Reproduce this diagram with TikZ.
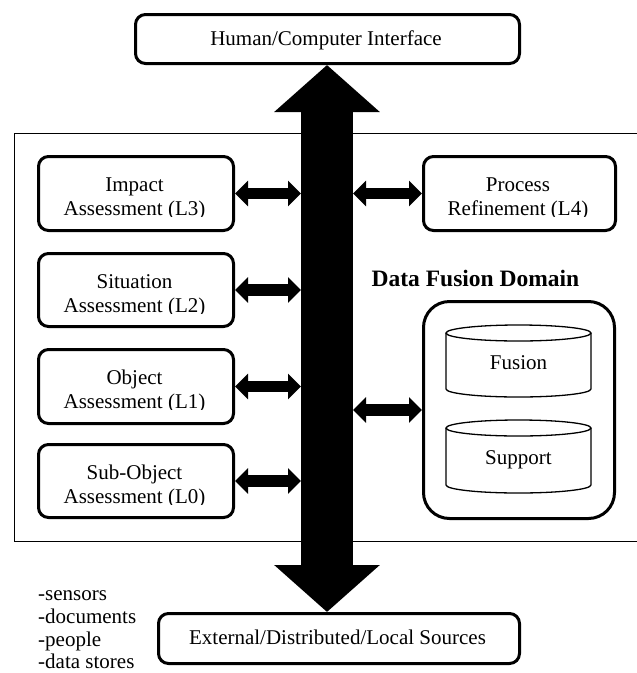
\documentclass[tikz,border=0pt]{standalone}
\usepackage{fontspec}
\setmainfont{Liberation Serif}
\usetikzlibrary{arrows.meta}
\begin{document}
\begin{tikzpicture}[x=1pt,y=-1pt,
  lbl/.style={font=\fontsize{21}{24}\selectfont, inner sep=0pt, anchor=base},
  title/.style={font=\fontsize{23.5}{27}\selectfont\bfseries, inner sep=0pt, anchor=base},
  boxnode/.style={draw, line width=3pt, rounded corners=10pt, anchor=north west, inner sep=0pt},
  storebox/.style={draw, line width=3pt, rounded corners=26pt, anchor=north west, inner sep=0pt},
  cyl/.style={line width=1.3pt},
  link/.style={line width=11.5pt, {Triangle[length=13pt,width=25pt]}-{Triangle[length=13pt,width=25pt]}},
  bus/.style={line width=52pt, {Triangle[length=47pt,width=103pt]}-{Triangle[length=47pt,width=103pt]}}]
\useasboundingbox (0,0) rectangle (637,673);

% data fusion domain frame (open on the right)
\draw[line width=1pt] (640,133) -- (14,133) -- (14,541) -- (640,541);

% boxes
\node[boxnode, minimum width=384, minimum height=49] (hci) at (134,13) {};
\node[boxnode, minimum width=361, minimum height=50] (ext) at (157,612) {};
\node[boxnode, minimum width=195, minimum height=74] (l3) at (37,155) {};
\node[boxnode, minimum width=195, minimum height=73] (l2) at (37,252) {};
\node[boxnode, minimum width=195, minimum height=74] (l1) at (37,348) {};
\node[boxnode, minimum width=195, minimum height=73] (l0) at (37,443) {};
\node[boxnode, minimum width=192, minimum height=74] (l4) at (422,155) {};
\node[storebox, minimum width=191, minimum height=217] (store) at (422,300) {};

% central bus, a vertical double arrow between the two outer boxes
\coordinate (busC) at (327,0);
\coordinate (busL) at (301,0);
\coordinate (busR) at (353,0);
\draw[bus] (busC |- hci.south) -- (busC |- ext.north);

% links to the bus
\draw[link] (l3.east) -- (l3.east -| busL);
\draw[link] (l2.east) -- (l2.east -| busL);
\draw[link] (l1.east) -- (l1.east -| busL);
\draw[link] (l0.east) -- (l0.east -| busL);
\draw[link] (l4.west) -- (l4.west -| busR);
\draw[link] (store.west) -- (store.west -| busR);

% databases
\draw[cyl, fill=white] (518.5,333) ellipse [x radius=72.5, y radius=8];
\draw[cyl] (446,333) -- (446,389) arc[start angle=180, end angle=0, x radius=72.5, y radius=8] -- (591,333);
\draw[cyl, fill=white] (518.5,428) ellipse [x radius=72.5, y radius=8];
\draw[cyl] (446,428) -- (446,485) arc[start angle=180, end angle=0, x radius=72.5, y radius=8] -- (591,428);
\node[lbl] (fusion) at (518.5,369) {Fusion};
\node[lbl] (support) at (518.5,464) {Support};

% labels
\node[lbl] (hcit) at (326,45) {Human/Computer Interface};
\node[lbl] (extt) at (337.5,644) {External/Distributed/Local Sources};
\node[title] (dom) at (475.5,286) {Data Fusion Domain};

\begin{scope}
  \clip (37,155) rectangle (232,216);
  \node[lbl] (l3a) at (134.5,191) {Impact};
  \node[lbl] (l3b) at (134.5,215) {Assessment (L3)};
\end{scope}
\begin{scope}
  \clip (37,252) rectangle (232,313);
  \node[lbl] (l2a) at (134.5,288) {Situation};
  \node[lbl] (l2b) at (134.5,312) {Assessment (L2)};
\end{scope}
\begin{scope}
  \clip (37,348) rectangle (232,409);
  \node[lbl] (l1a) at (134.5,384) {Object};
  \node[lbl] (l1b) at (134.5,408) {Assessment (L1)};
\end{scope}
\begin{scope}
  \clip (37,443) rectangle (232,504);
  \node[lbl] (l0a) at (134.5,479) {Sub-Object};
  \node[lbl] (l0b) at (134.5,503) {Assessment (L0)};
\end{scope}
\begin{scope}
  \clip (422,155) rectangle (614,216);
  \node[lbl] (l4a) at (518,191) {Process};
  \node[lbl] (l4b) at (518,215) {Refinement (L4)};
\end{scope}

% source list
\node[lbl, anchor=base west] (s1) at (38,600) {-sensors};
\node[lbl, anchor=base west] (s2) at (38,623) {-documents};
\node[lbl, anchor=base west] (s3) at (38,646) {-people};
\node[lbl, anchor=base west] (s4) at (38,668) {-data stores};
\end{tikzpicture}
\end{document}
